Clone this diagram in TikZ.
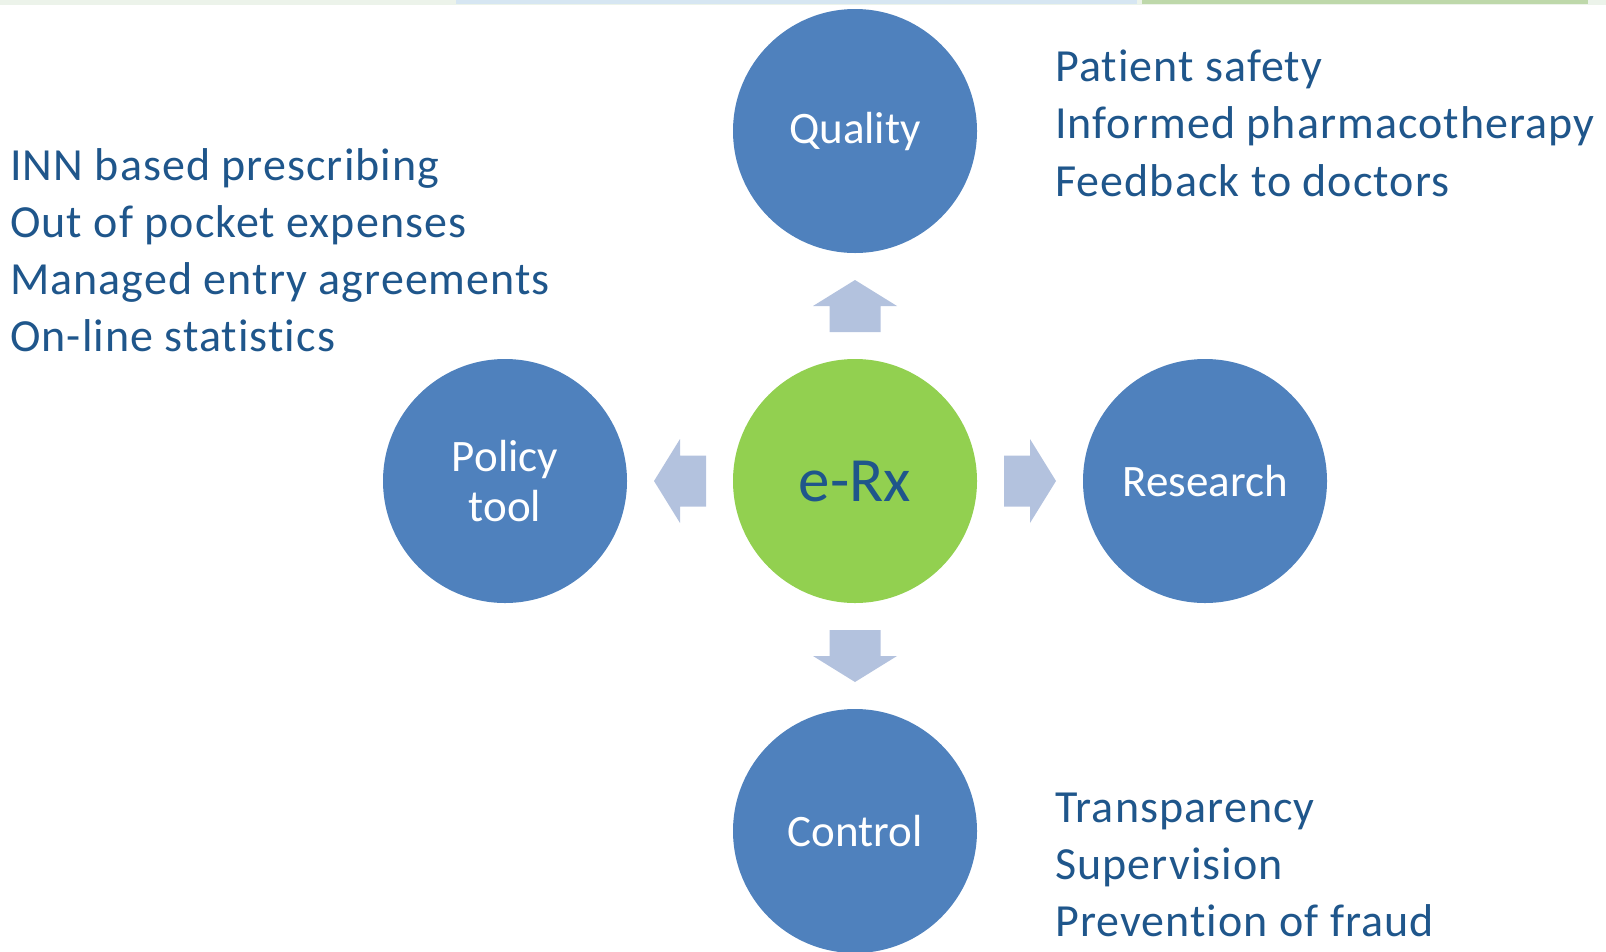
\documentclass[tikz,border=0pt]{standalone}
\usepackage{fontspec}
\setmainfont{Carlito}[Ligatures=NoCommon]
\newfontfamily\listfont{Carlito}[Ligatures=NoCommon, LetterSpace=2.3]
\usetikzlibrary{positioning, calc}

\definecolor{circblue}{RGB}{79,129,189}
\definecolor{circgreen}{RGB}{146,208,80}
\definecolor{arrowblue}{RGB}{179,194,222}
\definecolor{textblue}{RGB}{31,86,139}
\definecolor{stripgray}{RGB}{236,243,234}
\definecolor{stripblue}{RGB}{214,230,242}
\definecolor{stripgreen}{RGB}{190,216,170}

% block arrow centred at #1, pointing at angle #2
\newcommand{\blockarrow}[2]{%
  \fill[arrowblue, shift={(#1)}, rotate=#2]
    (-26,-25.5) -- (0,-25.5) -- (0,-42) -- (26,0) -- (0,42) -- (0,25.5) -- (-26,25.5) -- cycle;}

\begin{document}
\begin{tikzpicture}[x=1pt, y=-1pt, node distance=350pt]
\tikzstyle{every node}=[font=\fontsize{45}{50}\selectfont]
\tikzstyle{spoke}=[circle, fill=circblue, text=white, minimum size=244pt, inner sep=0pt, align=center]
\tikzstyle{hub}=[spoke, fill=circgreen, text=textblue, font=\fontsize{63}{72}\selectfont]
\tikzstyle{items}=[text=textblue, align=left, anchor=base west, inner sep=0pt, font=\listfont\fontsize{46}{57.2}\selectfont]

\useasboundingbox (0,0) rectangle (1606,951);
\fill[stripgray] (0,0) rectangle (1606,5);
\fill[stripblue] (456,0) rectangle (1137,4);
\fill[stripgreen] (1142,0) rectangle (1588,4);

\node[hub] (erx) at (855,481) {e-Rx};
\node[spoke, above of=erx] (qual) {Quality};
\node[spoke, left of=erx] (policy) {Policy\\tool};
\node[spoke, right of=erx] (research) {Research};
\node[spoke, below of=erx] (control) {Control};

\coordinate (up) at ($(erx)!0.5!(qual)$);
\coordinate (lt) at ($(erx)!0.5!(policy)$);
\coordinate (rt) at ($(erx)!0.5!(research)$);
\coordinate (dn) at ($(erx)!0.5!(control)$);
\blockarrow{up}{90}
\blockarrow{lt}{180}
\blockarrow{rt}{0}
\blockarrow{dn}{270}

% anchor is the baseline of the last line
\node[items] (qlist) at (1055,196.1) {Patient safety\\Informed pharmacotherapy\\Feedback to doctors};
\node[items] (plist) at (10,351.7) {INN based prescribing\\Out of pocket expenses\\Managed entry agreements\\On-line statistics};
\node[items] (clist) at (1055,936.7) {Transparency\\Supervision\\Prevention of fraud};
\end{tikzpicture}
\end{document}
